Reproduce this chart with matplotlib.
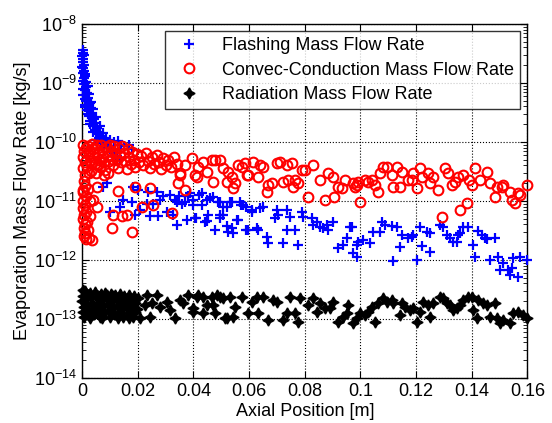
import matplotlib
matplotlib.use("Agg")
import matplotlib.pyplot as plt
import numpy as np

plt.rcParams['font.family'] = ['Liberation Sans', 'DejaVu Sans']
plt.rcParams['mathtext.fontset'] = 'custom'
plt.rcParams['mathtext.rm'] = 'Liberation Sans'

# ---- Flashing mass flow rate (blue +) ----
flash_x = [0.0002, 0.0004, 0.0001, 0.0005, 0.0002, 0.0006, 0.0003, 0.0008, 0.0004, 0.0010,
           0.0006, 0.0013, 0.0008, 0.0016, 0.0011, 0.0019, 0.0005, 0.0022, 0.0014, 0.0027,
           0.0009, 0.0031, 0.0018, 0.0036, 0.0024, 0.0042, 0.0030, 0.0048, 0.0038, 0.0055,
           0.0045, 0.0062, 0.0052, 0.0070, 0.0060, 0.0078, 0.0068, 0.0088, 0.0095, 0.0105,
           0.0115, 0.0125, 0.0135, 0.0007, 0.0000, 0.0012, 0.0003, 0.0020, 0.0002, 0.0025,
           0.0009, 0.0033, 0.0012, 0.0040, 0.0020, 0.0050, 0.0028, 0.0065, 0.0040, 0.0075,
           0.0050, 0.0085, 0.0100, 0.0115, 0.0130, 0.0140, 0.0150, 0.0170, 0.0180,
           0.0075, 0.0090, 0.0183, 0.0200, 0.0237, 0.0269, 0.0147, 0.0180, 0.0233, 0.0255,
           0.0290, 0.0316, 0.0340, 0.0360, 0.0208, 0.0244, 0.0273, 0.0305, 0.0327, 0.0340,
           0.0136, 0.0100, 0.0280, 0.0334, 0.0350, 0.0380, 0.0400, 0.0420, 0.0450, 0.0470,
           0.0495, 0.0520, 0.0540, 0.0570, 0.0590, 0.0610, 0.0190, 0.0377, 0.0410, 0.0450,
           0.0495, 0.0520, 0.0556, 0.0524, 0.0590, 0.0630,
           0.0388, 0.0431, 0.0460, 0.0370, 0.0398, 0.0431, 0.0488, 0.0506, 0.0531, 0.0567,
           0.0578, 0.0610, 0.0639, 0.0650, 0.0700, 0.0704, 0.0693, 0.0736, 0.0747, 0.0790,
           0.0793, 0.0406, 0.0442, 0.0452, 0.0495, 0.0506, 0.0560, 0.0477, 0.0539, 0.0542,
           0.0596, 0.0632, 0.0664, 0.0668, 0.0722, 0.0736, 0.0765, 0.0775, 0.0826, 0.0844,
           0.0829, 0.0854, 0.0880, 0.0901, 0.0865, 0.0883, 0.0962, 0.0919, 0.0937, 0.0951,
           0.0973, 0.0987,
           0.0969, 0.0991, 0.1009, 0.1034, 0.0987, 0.1045, 0.1070, 0.1077, 0.1088, 0.1113,
           0.1131, 0.1149, 0.1170, 0.1185, 0.1188, 0.1142, 0.1116, 0.1213, 0.1239, 0.1249,
           0.1221, 0.1249, 0.1203, 0.1285, 0.1296, 0.1310, 0.1321, 0.1332, 0.1346, 0.1350,
           0.1357, 0.1368, 0.1386, 0.1404, 0.1411, 0.1422, 0.1436, 0.1447, 0.1454, 0.1483,
           0.1465, 0.1493, 0.1511, 0.1501, 0.1529, 0.1544, 0.1537, 0.1565, 0.1547, 0.1572,
           0.1598]
flash_y = [3.6e-9, 3.2e-9, 2.9e-9, 2.6e-9, 2.3e-9, 2.0e-9, 1.8e-9, 1.6e-9, 1.45e-9, 1.3e-9,
           1.2e-9, 1.05e-9, 9.5e-10, 8.5e-10, 7.5e-10, 6.8e-10, 6.2e-10, 5.6e-10, 5.0e-10, 4.5e-10,
           4.2e-10, 3.8e-10, 3.5e-10, 3.1e-10, 2.8e-10, 2.5e-10, 2.3e-10, 2.1e-10, 1.9e-10, 1.75e-10,
           1.6e-10, 1.5e-10, 1.35e-10, 1.25e-10, 1.15e-10, 1.05e-10, 9.5e-11, 9.0e-11, 8.0e-11, 7.2e-11,
           6.5e-11, 5.8e-11, 5.2e-11, 3.0e-9, 1.9e-9, 1.4e-9, 1.1e-9, 9.0e-10, 7.8e-10, 6.5e-10,
           5.4e-10, 4.8e-10, 3.9e-10, 3.6e-10, 3.0e-10, 2.7e-10, 2.0e-10, 1.9e-10, 1.45e-10, 1.4e-10,
           1.1e-10, 1.15e-10, 1.1e-10, 1.0e-10, 1.05e-10, 9.0e-11, 8.5e-11, 9.0e-11, 7.5e-11,
           1.7e-11, 2.0e-11, 1.7e-11, 1.55e-11, 1.4e-11, 1.4e-11, 1.05e-11, 9.5e-12, 9.0e-12, 9.0e-12,
           1.2e-11, 1.27e-11, 9.5e-12, 9.0e-12, 7.0e-12, 5.6e-12, 5.6e-12, 6.5e-12, 5.8e-12, 3.9e-12,
           8.0e-12, 6.5e-12, 1.05e-11, 1.05e-11, 1.2e-11, 1.2e-11, 1.05e-11, 1.27e-11, 1.05e-11, 1.15e-11,
           9.5e-12, 8.0e-12, 9.5e-12, 8.5e-12, 8.0e-12, 7.0e-12, 5.8e-12, 4.8e-12, 5.2e-12, 4.5e-12,
           5.8e-12, 3.7e-12, 4.8e-12, 3.0e-12, 3.2e-12, 3.5e-12,
           1.37e-11, 1.37e-11, 1.12e-11, 9.6e-12, 8.5e-12, 8.5e-12, 9.6e-12, 7.9e-12, 9.6e-12, 9.6e-12,
           8.5e-12, 6.5e-12, 7.6e-12, 7.9e-12, 7.0e-12, 5.8e-12, 5.2e-12, 7.0e-12, 5.4e-12, 6.5e-12,
           5.4e-12, 5.2e-12, 4.4e-12, 5.8e-12, 5.2e-12, 5.8e-12, 4.8e-12, 3.2e-12, 3.5e-12, 2.9e-12,
           3.2e-12, 3.2e-12, 2.45e-12, 1.95e-12, 1.95e-12, 3.2e-12, 3.2e-12, 1.8e-12, 5.2e-12, 4.4e-12,
           3.9e-12, 3.6e-12, 3.9e-12, 4.4e-12, 3.5e-12, 3.2e-12, 3.6e-12, 1.6e-12, 1.8e-12, 2.36e-12,
           1.32e-12, 1.8e-12,
           3.6e-12, 2.0e-12, 2.2e-12, 1.95e-12, 1.12e-12, 3.0e-12, 3.0e-12, 4.4e-12, 3.9e-12, 3.75e-12,
           3.6e-12, 2.65e-12, 2.36e-12, 2.45e-12, 2.65e-12, 1.66e-12, 9.6e-13, 3.6e-12, 3.0e-12, 2.9e-12,
           1.73e-12, 1.37e-12, 1.0e-12, 3.9e-12, 3.6e-12, 2.65e-12, 2.36e-12, 2.0e-12, 2.0e-12, 2.65e-12,
           2.9e-12, 3.6e-12, 3.6e-12, 1.8e-12, 1.12e-12, 3.1e-12, 2.65e-12, 2.36e-12, 2.27e-12, 2.36e-12,
           1.0e-12, 1.12e-12, 8.9e-13, 6.8e-13, 6.8e-13, 7.3e-13, 5.6e-13, 5.2e-13, 1.08e-12, 1.12e-12,
           1.0e-12]

# ---- Convection-conduction mass flow rate (red o) ----
conv_x = [0.0005, 0.0010, 0.0003, 0.0015, 0.0008, 0.0004, 0.0018, 0.0010, 0.0006, 0.0020,
          0.0012, 0.0008, 0.0025, 0.0036, 0.0015, 0.0028, 0.0030, 0.0022,
          0.0003, 0.0006, 0.0002, 0.0009, 0.0004, 0.0012, 0.0007, 0.0010, 0.0005, 0.0014,
          0.0020, 0.0024, 0.0028, 0.0018, 0.0032, 0.0036, 0.0040, 0.0044, 0.0048, 0.0052,
          0.0056, 0.0060, 0.0064, 0.0068, 0.0072, 0.0076, 0.0080, 0.0084, 0.0088, 0.0092,
          0.0096, 0.0100, 0.0104, 0.0108, 0.0112, 0.0116, 0.0120, 0.0124, 0.0128, 0.0132,
          0.0136, 0.0140, 0.0145, 0.0150, 0.0155, 0.0160, 0.0165, 0.0170, 0.0175, 0.0180,
          0.0186, 0.0192, 0.0198, 0.0205, 0.0212, 0.0220, 0.0228, 0.0236, 0.0244, 0.0252,
          0.0260, 0.0268, 0.0276, 0.0284, 0.0292, 0.0300, 0.0310, 0.0320, 0.0330, 0.0340,
          0.0015, 0.0030, 0.0045, 0.0058, 0.0070, 0.0035, 0.0025, 0.0050, 0.0078, 0.0095,
          0.0004, 0.0054, 0.0039, 0.0054, 0.0111, 0.0144, 0.0108, 0.0180, 0.0129, 0.0190,
          0.0215, 0.0244, 0.0323, 0.0345, 0.0370, 0.0352, 0.0162, 0.0255, 0.0413, 0.0470,
          0.0542, 0.0592,
          0.0352, 0.0370, 0.0395, 0.0406, 0.0416, 0.0434, 0.0449, 0.0467, 0.0477, 0.0495,
          0.0506, 0.0524, 0.0520, 0.0539, 0.0550, 0.0560, 0.0575, 0.0585, 0.0596, 0.0614,
          0.0632, 0.0639, 0.0650, 0.0664, 0.0668, 0.0682, 0.0700, 0.0711, 0.0736, 0.0754,
          0.0722, 0.0740, 0.0765, 0.0775, 0.0757, 0.0790, 0.0801, 0.0811, 0.0829, 0.0854,
          0.0872, 0.0883, 0.0901, 0.0905, 0.0919, 0.0933, 0.0944, 0.0973, 0.0987,
          0.0980, 0.0998, 0.0990, 0.1016, 0.1027, 0.1041, 0.1052, 0.1063, 0.1070, 0.1081,
          0.1095, 0.1113, 0.1116, 0.1131, 0.1142, 0.1149, 0.1170, 0.1185, 0.1188, 0.1203,
          0.1213, 0.1221, 0.1242, 0.1249, 0.1260, 0.1278, 0.1292, 0.1303, 0.1314, 0.1328,
          0.1339, 0.1350, 0.1368, 0.1357, 0.1382, 0.1389, 0.1400, 0.1411, 0.1429, 0.1454,
          0.1465, 0.1483, 0.1490, 0.1508, 0.1511, 0.1537, 0.1544, 0.1554, 0.1565, 0.1572,
          0.1598]
conv_y = [1.0e-11, 8.5e-12, 7.5e-12, 6.5e-12, 5.8e-12, 5.0e-12, 4.4e-12, 4.0e-12, 3.5e-12, 3.2e-12,
          2.9e-12, 2.6e-12, 2.4e-12, 2.2e-12, 2.3e-12, 1.0e-11, 5.5e-12, 1.6e-11,
          9.0e-11, 7.0e-11, 5.5e-11, 4.5e-11, 3.6e-11, 2.8e-11, 2.2e-11, 1.8e-11, 1.4e-11, 1.2e-11,
          8.5e-11, 6.2e-11, 4.8e-11, 3.9e-11, 3.2e-11, 9.2e-11, 7.5e-11, 5.6e-11, 4.2e-11, 8.8e-11,
          6.5e-11, 5.0e-11, 3.8e-11, 9.0e-11, 7.2e-11, 5.8e-11, 4.5e-11, 3.4e-11, 8.2e-11, 6.0e-11,
          4.8e-11, 9.0e-11, 7.0e-11, 5.2e-11, 4.0e-11, 8.5e-11, 6.4e-11, 5.0e-11, 3.6e-11, 7.8e-11,
          5.8e-11, 4.5e-11, 8.5e-11, 6.5e-11, 4.8e-11, 3.5e-11, 7.5e-11, 5.5e-11, 4.2e-11, 6.8e-11,
          5.0e-11, 3.8e-11, 6.2e-11, 4.5e-11, 5.8e-11, 4.0e-11, 6.4e-11, 4.8e-11, 3.6e-11, 5.6e-11,
          4.2e-11, 6.0e-11, 4.6e-11, 3.5e-11, 5.4e-11, 4.0e-11, 5.0e-11, 3.8e-11, 5.6e-11, 4.2e-11,
          7.8e-11, 7.0e-11, 8.0e-11, 4.0e-11, 5.2e-11, 4.4e-11, 3.0e-11, 3.0e-11, 2.8e-11, 3.0e-11,
          1.55e-11, 1.7e-11, 1.05e-11, 7.9e-12, 5.8e-12, 5.6e-12, 3.5e-12, 3.0e-12, 1.5e-11, 1.7e-11,
          7.9e-12, 1.65e-11, 6.2e-12, 2.0e-11, 1.55e-11, 2.8e-11, 5.8e-12, 8.5e-12, 2.6e-11, 2.1e-11,
          1.65e-11, 2.8e-11,
          3.0e-11, 4.1e-11, 5.4e-11, 2.76e-11, 3.8e-11, 4.6e-11, 3.1e-11, 4.95e-11, 4.95e-11, 4.95e-11,
          3.6e-11, 3.1e-11, 2.1e-11, 2.55e-11, 2.0e-11, 4.1e-11, 3.8e-11, 4.4e-11, 2.76e-11, 4.6e-11,
          2.55e-11, 4.1e-11, 3.8e-11, 1.42e-11, 1.87e-11, 2.0e-11, 4.4e-11, 4.6e-11, 4.1e-11, 4.4e-11,
          2.1e-11, 2.27e-11, 2.27e-11, 2.0e-11, 1.73e-11, 3.35e-11, 3.35e-11, 1.17e-11, 4.1e-11, 2.27e-11,
          1.04e-11, 3.0e-11, 2.55e-11, 1.17e-11, 1.73e-11, 1.66e-11, 2.27e-11, 2.0e-11, 1.87e-11,
          1.73e-11, 9.6e-12, 2.1e-11, 2.27e-11, 2.1e-11, 2.27e-11, 1.87e-11, 1.42e-11, 3.0e-11, 3.8e-11,
          3.8e-11, 2.76e-11, 1.73e-11, 3.8e-11, 1.73e-11, 3.1e-11, 2.27e-11, 2.27e-11, 3.0e-11, 1.66e-11,
          3.6e-11, 2.55e-11, 3.0e-11, 2.0e-11, 2.55e-11, 1.54e-11, 5.4e-12, 3.6e-11, 3.0e-11, 1.87e-11,
          2.1e-11, 2.55e-11, 2.76e-11, 7.0e-12, 9.2e-12, 2.27e-11, 1.87e-11, 3.6e-11, 2.27e-11, 3.1e-11,
          2.0e-11, 1.17e-11, 1.73e-11, 1.73e-11, 1.87e-11, 1.42e-11, 1.04e-11, 9.2e-12, 1.37e-11, 1.27e-11,
          1.87e-11]

# ---- Radiation mass flow rate (black) ----
rad_x = [0.0002, 0.0004, 0.0001, 0.0006, 0.0003, 0.0008, 0.0012, 0.0015, 0.0018, 0.0021,
         0.0024, 0.0028, 0.0032, 0.0036, 0.0040, 0.0044, 0.0048, 0.0052, 0.0056, 0.0060,
         0.0064, 0.0068, 0.0072, 0.0076, 0.0080, 0.0084, 0.0088, 0.0092, 0.0096, 0.0100,
         0.0104, 0.0108, 0.0112, 0.0116, 0.0120, 0.0124, 0.0128, 0.0132, 0.0136, 0.0140,
         0.0144, 0.0148, 0.0152, 0.0156, 0.0160, 0.0164, 0.0168, 0.0172, 0.0176, 0.0180,
         0.0184, 0.0188, 0.0192, 0.0196, 0.0200, 0.0010, 0.0030, 0.0050, 0.0070, 0.0090,
         0.0110, 0.0130, 0.0150, 0.0170, 0.0190,
         0.0233, 0.0269, 0.0226, 0.0251, 0.0280, 0.0208, 0.0244, 0.0305, 0.0316, 0.0334,
         0.0352, 0.0380, 0.0398, 0.0413, 0.0434, 0.0449, 0.0467, 0.0477, 0.0495, 0.0520,
         0.0542, 0.0531, 0.0549, 0.0574, 0.0596, 0.0610, 0.0628, 0.0650, 0.0632, 0.0668,
         0.0686, 0.0700, 0.0722, 0.0736, 0.0747, 0.0765, 0.0775, 0.0783, 0.0811,
         0.0363, 0.0416, 0.0513, 0.0485, 0.0506, 0.0470, 0.0398, 0.0434,
         0.0829, 0.0844, 0.0854, 0.0872, 0.0890, 0.0901, 0.0919, 0.0937, 0.0951, 0.0955,
         0.0973, 0.0987, 0.0998, 0.1016, 0.1027, 0.1041, 0.1052, 0.1063, 0.1081, 0.1095,
         0.1113, 0.1116, 0.1142, 0.1149, 0.1160, 0.1178, 0.1188, 0.1203, 0.1213, 0.1224,
         0.1249, 0.1242, 0.1260, 0.1285, 0.1296, 0.1310, 0.1321, 0.1332, 0.1346, 0.1357,
         0.1368, 0.1386, 0.1400, 0.1404, 0.1418, 0.1422, 0.1440, 0.1454, 0.1483, 0.1465,
         0.1490, 0.1501, 0.1511, 0.1537, 0.1547, 0.1565, 0.1583, 0.1598]
rad_y = [3.1e-13, 2.5e-13, 2.0e-13, 1.6e-13, 1.3e-13, 1.1e-13, 2.9e-13, 2.2e-13, 1.75e-13, 1.4e-13,
         1.15e-13, 2.8e-13, 2.4e-13, 1.9e-13, 1.5e-13, 1.2e-13, 2.9e-13, 2.3e-13, 1.8e-13, 1.35e-13,
         1.1e-13, 2.7e-13, 2.1e-13, 1.65e-13, 1.25e-13, 2.8e-13, 2.3e-13, 1.8e-13, 1.4e-13, 1.1e-13,
         2.7e-13, 2.0e-13, 1.55e-13, 1.2e-13, 2.6e-13, 2.2e-13, 1.7e-13, 1.3e-13, 2.7e-13, 1.9e-13,
         1.45e-13, 1.1e-13, 2.5e-13, 2.0e-13, 1.6e-13, 1.25e-13, 2.6e-13, 2.1e-13, 1.7e-13, 1.35e-13,
         1.1e-13, 2.5e-13, 1.9e-13, 1.5e-13, 2.3e-13, 3.0e-13, 1.05e-13, 1.6e-13, 1.05e-13, 2.6e-13,
         2.5e-13, 1.05e-13, 1.7e-13, 1.05e-13, 1.3e-13,
         2.55e-13, 2.55e-13, 1.73e-13, 1.87e-13, 1.6e-13, 1.04e-13, 1.08e-13, 1.94e-13, 1.42e-13, 1.04e-13,
         2.1e-13, 2.55e-13, 1.31e-13, 2.36e-13, 2.36e-13, 1.73e-13, 2.36e-13, 1.26e-13, 2.36e-13, 1.04e-13,
         1.08e-13, 2.36e-13, 1.6e-13, 2.36e-13, 1.26e-13, 1.94e-13, 2.36e-13, 2.36e-13, 1.26e-13, 9.6e-14,
         2.1e-13, 1.94e-13, 9.6e-14, 1.26e-13, 2.36e-13, 1.26e-13, 8.9e-14, 2.27e-13, 1.73e-13,
         1.87e-13, 2.55e-13, 1.04e-13, 2.55e-13, 2.27e-13, 1.73e-13, 1.54e-13, 1.26e-13,
         2.27e-13, 1.31e-13, 1.87e-13, 1.54e-13, 1.54e-13, 1.94e-13, 8.9e-14, 1.08e-13, 1.26e-13, 1.73e-13,
         8.5e-14, 1.04e-13, 1.26e-13, 1.17e-13, 1.31e-13, 1.6e-13, 8.9e-14, 1.87e-13, 2.27e-13, 1.94e-13,
         2.1e-13, 1.87e-13, 1.17e-13, 1.87e-13, 1.6e-13, 1.42e-13, 1.54e-13, 8.9e-14, 1.31e-13, 1.94e-13,
         1.08e-13, 1.73e-13, 1.87e-13, 2.36e-13, 2.27e-13, 1.87e-13, 1.73e-13, 1.42e-13, 1.54e-13, 1.73e-13,
         2.1e-13, 2.36e-13, 2.36e-13, 1.42e-13, 1.04e-13, 2.1e-13, 1.87e-13, 1.73e-13, 1.87e-13, 1.08e-13,
         1.04e-13, 8.5e-14, 9.6e-14, 8.5e-14, 1.26e-13, 1.31e-13, 1.17e-13, 1.04e-13]

fig = plt.figure(figsize=(5.52, 4.23), dpi=100)
ax = fig.add_axes([0.1486, 0.1064, 0.807, 0.8369])

ax.plot(flash_x, flash_y, '+', color='blue', markersize=7.5, markeredgewidth=1.6,
        label='Flashing Mass Flow Rate', clip_on=False, zorder=3)
ax.plot(conv_x, conv_y, 'o', markerfacecolor='none', markeredgecolor='red', markersize=7,
        markeredgewidth=1.5, label='Convec-Conduction Mass Flow Rate', clip_on=False, zorder=4)
ax.plot(rad_x, rad_y, linestyle='none', marker=(4, 1, 0), color='black', markersize=8,
        label='Radiation Mass Flow Rate', clip_on=False, zorder=3)

ax.set_yscale('log')
ax.set_xlim(0, 0.16)
ax.set_ylim(1e-14, 1e-8)
ax.set_xticks(np.arange(0, 0.161, 0.02))
ax.set_xticklabels(['0', '0.02', '0.04', '0.06', '0.08', '0.1', '0.12', '0.14', '0.16'])
ax.set_yticks([1e-14, 1e-13, 1e-12, 1e-11, 1e-10, 1e-9, 1e-8])

ax.grid(True, which='major', linestyle=':', color='black', linewidth=0.8)
ax.tick_params(which='both', direction='in', top=True, right=True, labelsize=13)
ax.tick_params(which='major', length=5)
ax.tick_params(which='minor', length=3)
for s in ax.spines.values():
    s.set_linewidth(1.0)

ax.set_xlabel('Axial Position [m]', fontsize=13, labelpad=2)
ax.set_ylabel('Evaporation Mass Flow Rate [kg/s]', fontsize=13, labelpad=2)

leg = ax.legend(loc='upper right', bbox_to_anchor=(0.983, 0.980), borderaxespad=0,
                fontsize=13, frameon=True, fancybox=False, edgecolor='black',
                handlelength=2.0, handletextpad=0.8, labelspacing=0.4, borderpad=0.35)
leg.get_frame().set_linewidth(1.0)

fig.savefig('out.png', dpi=100)
